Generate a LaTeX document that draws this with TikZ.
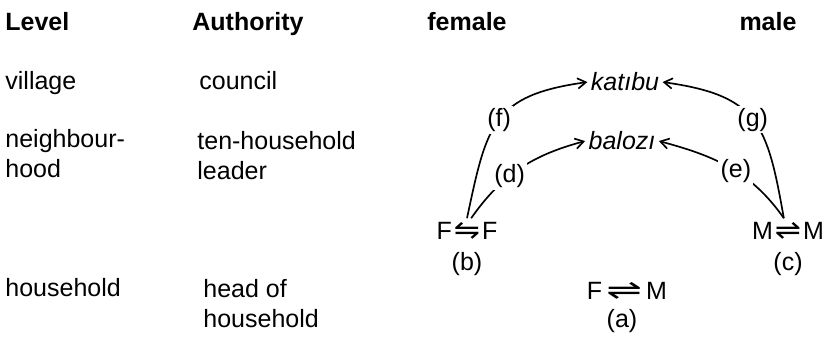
\documentclass[tikz,border=0pt]{standalone}
\usepackage{fontspec}
\setmainfont{Liberation Sans}
\newfontfamily\symfont{DejaVu Sans}
\usetikzlibrary{arrows.meta}

\begin{document}
\begin{tikzpicture}[x=0.48pt,y=0.48pt,font=\fontsize{12}{14.4}\selectfont,
  txt/.style={inner sep=0pt,align=left,anchor=base west},
  hdr/.style={txt,font=\fontsize{12}{14.4}\selectfont\bfseries},
  ttl/.style={inner sep=1.5pt,anchor=base,font=\fontsize{12}{14.4}\selectfont\itshape},
  sym/.style={inner sep=0pt,anchor=base},
  lbl/.style={fill=white,inner sep=1pt},
  arr/.style={-{Straight Barb[length=4pt,width=5pt]},line width=0.8pt}]
\useasboundingbox (0,0) rectangle (827,337);
\node[hdr] (lvl) at (5,306) {Level};
\node[hdr] (auth) at (192,306) {Authority};
\node[hdr,anchor=base] (fem) at (467,306) {female};
\node[hdr,anchor=base] (mal) at (768,306) {male};
\node[txt] (vil) at (5,247) {village};
\node[txt] (cou) at (199,247) {council};
\node[txt] (nbh) at (5,159) {neighbour-\\hood};
\node[txt] (ten) at (197,157) {ten-household\\leader};
\node[txt] (hh) at (5,40) {household};
\node[txt] (hoh) at (203,9) {head of\\household};
\node[ttl] (kat) at (625,246) {katıbu};
\node[ttl] (bal) at (622,187) {balozı};
\node[sym] (ff) at (467,97) {F\kern1pt\scalebox{1.25}[1.1]{\symfont ⇋}\kern1pt F};
\node[sym] (mm) at (788,97) {M\kern1pt\scalebox{1.25}[1.1]{\symfont ⇌}\kern1pt M};
\node[sym] (fm) at (627,37) {F\,\scalebox{1.7}[1.1]{\symfont ⇌}\,M};
\node[sym] (b) at (467,66) {(b)};
\node[sym] (c) at (788,66) {(c)};
\node[sym] (a) at (622,9) {(a)};
\draw[arr] ([yshift=2pt]ff.north) to[out=78,in=188,looseness=1.35] node[lbl,pos=0.5]{(f)} (kat.west);
\draw[arr] ([xshift=2pt,yshift=2pt]ff.north) to[out=55,in=195] node[lbl,pos=0.4]{(d)} (bal.west);
\draw[arr] ([xshift=-2pt,yshift=2pt]mm.north) to[out=100,in=-8,looseness=1.35] node[lbl,pos=0.5]{(g)} (kat.east);
\draw[arr] ([xshift=-2pt,yshift=2pt]mm.north) to[out=125,in=-15] node[lbl,pos=0.45]{(e)} (bal.east);
\end{tikzpicture}
\end{document}
